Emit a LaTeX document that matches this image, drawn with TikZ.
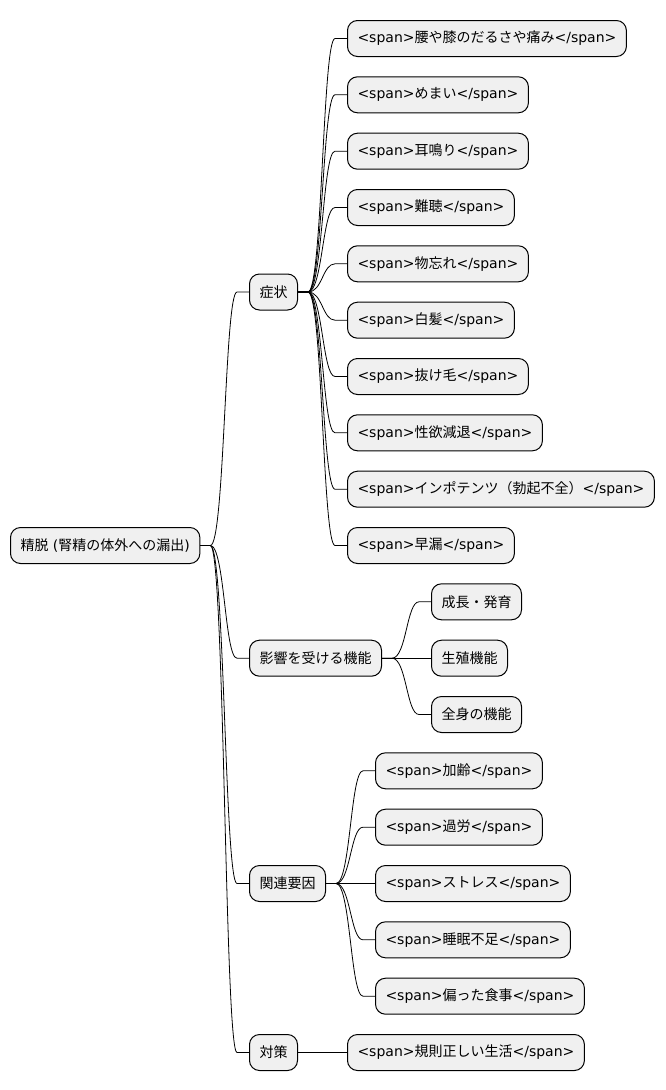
\documentclass[tikz,border=0pt]{standalone}
\usepackage{fontspec}
\setmainfont{DejaVu Sans}
\newfontfamily\jp{Noto Sans CJK JP}
\newcommand{\jtext}[1]{{\jp #1}}
\usetikzlibrary{calc}

\begin{document}
\begin{tikzpicture}[
  x=1pt,y=-1pt,
  topic/.style={draw,line width=1pt,rounded corners=10pt,fill=black!6,minimum height=36pt,
    inner xsep=10pt,anchor=west,font=\fontsize{14}{16}\selectfont},
  branch/.style={line width=.8pt,to path={let \p1=(\tikztostart.east), \p2=(\tikztotarget.west),
    \n1={0.5*(\x1+\x2)} in (\p1) -- (\x1+10pt,\y1) .. controls (\n1,\y1) and (\n1,\y2) .. (\x2-12pt,\y2) -- (\p2)}}
]
  \useasboundingbox (0,0) rectangle (665,1090);

  % root and main branches
  \node[topic] (root) at (10,545.5) {\jtext{精脱} (\jtext{腎精の体外への漏出})};
  \node[topic] (symptom) at (249,292) {\jtext{症状}};
  \node[topic] (function) at (249,658.2) {\jtext{影響を受ける機能}};
  \node[topic] (factor) at (249,883.5) {\jtext{関連要因}};
  \node[topic] (measure) at (249,1052.5) {\jtext{対策}};

  % symptoms
  \node[topic] (s1) at (347,38.5) {<span>\jtext{腰や膝のだるさや痛み}</span>};
  \node[topic] (s2) at (347,94.8) {<span>\jtext{めまい}</span>};
  \node[topic] (s3) at (347,151.2) {<span>\jtext{耳鳴り}</span>};
  \node[topic] (s4) at (347,207.5) {<span>\jtext{難聴}</span>};
  \node[topic] (s5) at (347,263.8) {<span>\jtext{物忘れ}</span>};
  \node[topic] (s6) at (347,320.2) {<span>\jtext{白髪}</span>};
  \node[topic] (s7) at (347,376.5) {<span>\jtext{抜け毛}</span>};
  \node[topic] (s8) at (347,432.8) {<span>\jtext{性欲減退}</span>};
  \node[topic] (s9) at (347,489.2) {<span>\jtext{インポテンツ（勃起不全）}</span>};
  \node[topic] (s10) at (347,545.5) {<span>\jtext{早漏}</span>};

  % affected functions
  \node[topic] (f1) at (431,601.8) {\jtext{成長・発育}};
  \node[topic] (f2) at (431,658.2) {\jtext{生殖機能}};
  \node[topic] (f3) at (431,714.5) {\jtext{全身の機能}};

  % related factors
  \node[topic] (r1) at (375,770.8) {<span>\jtext{加齢}</span>};
  \node[topic] (r2) at (375,827.2) {<span>\jtext{過労}</span>};
  \node[topic] (r3) at (375,883.5) {<span>\jtext{ストレス}</span>};
  \node[topic] (r4) at (375,939.8) {<span>\jtext{睡眠不足}</span>};
  \node[topic] (r5) at (375,996.2) {<span>\jtext{偏った食事}</span>};

  % measures
  \node[topic] (m1) at (347,1052.5) {<span>\jtext{規則正しい生活}</span>};

  \foreach \c in {symptom,function,factor,measure} \draw[branch] (root) to (\c);
  \foreach \c in {s1,s2,s3,s4,s5,s6,s7,s8,s9,s10} \draw[branch] (symptom) to (\c);
  \foreach \c in {f1,f2,f3} \draw[branch] (function) to (\c);
  \foreach \c in {r1,r2,r3,r4,r5} \draw[branch] (factor) to (\c);
  \draw[branch] (measure) to (m1);
\end{tikzpicture}
\end{document}
